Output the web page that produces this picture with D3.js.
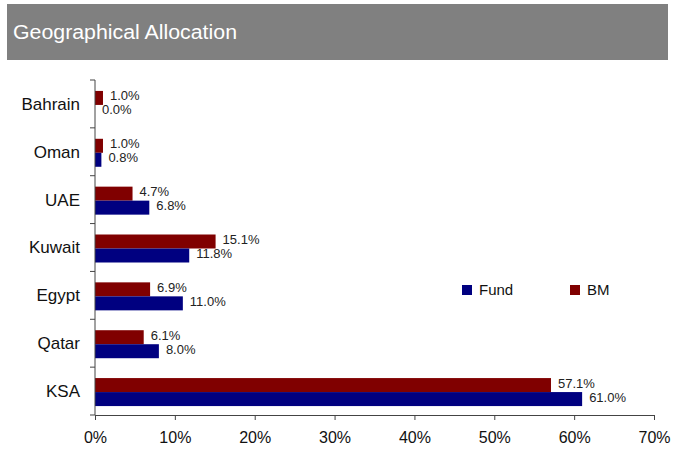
<!DOCTYPE html>
<html>
<head>
<meta charset="utf-8">
<script src="https://cdn.jsdelivr.net/npm/d3@7"></script>
<style>
  html, body { margin: 0; padding: 0; background: #fff; }
  svg { display: block; font-family: "Liberation Sans", Arial, sans-serif; }
</style>
</head>
<body>
<svg id="chart" width="675" height="455"></svg>
<script>
// Regions shown top to bottom
const regions = ["Bahrain", "Oman", "UAE", "Kuwait", "Egypt", "Qatar", "KSA"];
// Allocation (%) per region
const fundValues = [0.0, 0.8, 6.8, 11.8, 11.0, 8.0, 61.0];
const bmValues   = [1.0, 1.0, 4.7, 15.1, 6.9, 6.1, 57.1];
const seriesNames = ["Fund", "BM"];
const xTicks = [0, 10, 20, 30, 40, 50, 60, 70];

const colors = { Fund: "#000080", BM: "#800000" };

const svg = d3.select("#chart");

// Title banner
svg.append("rect")
  .attr("x", 7).attr("y", 4).attr("width", 661).attr("height", 56)
  .attr("fill", "#808080");
svg.append("text")
  .attr("x", 13).attr("y", 39)
  .attr("fill", "#fff")
  .attr("font-size", 20)
  .attr("textLength", 224)
  .attr("lengthAdjust", "spacingAndGlyphs")
  .text("Geographical Allocation");

const plot = { left: 95, right: 654, top: 80, bottom: 415 };

const x = d3.scaleLinear().domain([0, 70]).range([plot.left, plot.right]);
const y = d3.scaleBand().domain(regions).range([plot.top, plot.bottom]).paddingInner(0).paddingOuter(0);
const barH = 14;

const rows = regions.map((r, i) => ({ region: r, Fund: fundValues[i], BM: bmValues[i] }));

// Bars: BM above, Fund below, around band center
const g = svg.append("g");
rows.forEach(d => {
  const c = y(d.region) + y.bandwidth() / 2 + 1;
  const defs = [
    { key: "BM", y0: c - barH },
    { key: "Fund", y0: c }
  ];
  defs.forEach(s => {
    g.append("rect")
      .attr("x", x(0))
      .attr("y", s.y0)
      .attr("width", x(d[s.key]) - x(0))
      .attr("height", barH)
      .attr("fill", colors[s.key]);
    g.append("text")
      .attr("x", x(d[s.key]) + 7)
      .attr("y", s.y0 + barH / 2 - 2)
      .attr("dy", "0.35em")
      .attr("font-size", 13)
      .attr("fill", "#222")
      .text(d[s.key].toFixed(1) + "%");
  });
});

// Vertical axis line with category boundary ticks
const axisColor = "#444";
svg.append("line")
  .attr("x1", plot.left).attr("x2", plot.left)
  .attr("y1", plot.top).attr("y2", plot.bottom)
  .attr("stroke", axisColor).attr("stroke-width", 1);
const boundaries = regions.map(r => y(r)).concat([plot.bottom]);
svg.selectAll(".ytick").data(boundaries).enter().append("line")
  .attr("x1", plot.left - 5).attr("x2", plot.left)
  .attr("y1", d => d).attr("y2", d => d)
  .attr("stroke", axisColor);

// Category labels
svg.selectAll(".ylab").data(regions).enter().append("text")
  .attr("x", plot.left - 15)
  .attr("y", d => y(d) + y.bandwidth() / 2)
  .attr("dy", "0.35em")
  .attr("text-anchor", "end")
  .attr("font-size", 17)
  .attr("fill", "#111")
  .text(d => d);

// Horizontal axis
const xAxis = d3.axisBottom(x).tickValues(xTicks).tickFormat(d => d + "%").tickSize(5).tickPadding(12);
const xg = svg.append("g").attr("transform", `translate(0,${plot.bottom})`).call(xAxis);
xg.select(".domain").attr("stroke", axisColor);
xg.selectAll(".tick line").attr("stroke", axisColor);
xg.selectAll(".tick text")
  .attr("font-size", 16)
  .attr("font-family", "Liberation Sans, Arial, sans-serif")
  .attr("fill", "#111");

// Legend
const legend = svg.append("g");
const legendPos = [{ name: "Fund", x: 462 }, { name: "BM", x: 570 }];
legendPos.forEach(l => {
  legend.append("rect")
    .attr("x", l.x).attr("y", 285).attr("width", 10).attr("height", 10)
    .attr("fill", colors[l.name]);
  legend.append("text")
    .attr("x", l.x + 17).attr("y", 290)
    .attr("dy", "0.35em")
    .attr("font-size", 15)
    .attr("fill", "#111")
    .text(l.name);
});
</script>
</body>
</html>
